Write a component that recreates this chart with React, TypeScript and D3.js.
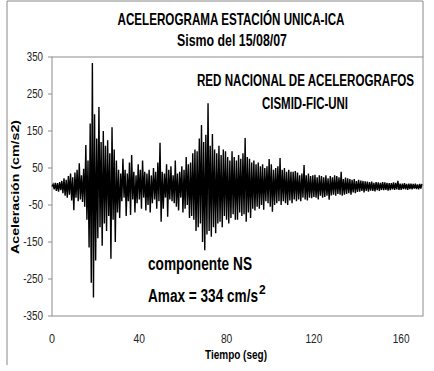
import React from "react";
import * as d3 from "d3";

const SAMPLE_STEP = 0.5;
const accel = [
  0, 6, -8, 10, -12, 9, -14, 12, -10, 15,
  -18, 22, -25, 18, -30, 28, -22, 35, -38, 25,
  -64, 38, -30, 45, -40, 63, -35, 30, -42, 48,
  -55, 112, -90, 70, -165, 170, -260, 334, -300, 195,
  -200, 130, -140, 215, -110, 120, -160, 150, -100, 110,
  -120, 125, -80, 90, -195, 160, -90, 100, -150, 70,
  -70, 45, -85, 35, -40, 75, -30, 45, -80, 35,
  -40, 65, -77, 85, -35, 40, -70, 30, -45, 60,
  -35, 45, -60, 70, -30, 40, -65, 35, -50, 45,
  -70, 30, -45, 50, -35, 40, -60, 65, -40, 118,
  -95, 40, -60, 35, -30, 60, -82, 45, -35, 55,
  -40, 30, -45, 70, -55, 35, -65, 40, -30, 55,
  -70, 45, -60, 80, -50, 60, -85, 65, -80, 90,
  -90, 100, -120, 95, -110, 130, -100, 166, -150, 120,
  -172, 140, -130, 225, -120, 110, -136, 142, -110, 100,
  -126, 90, -100, 110, -95, 85, -110, 100, -80, 95,
  -90, 80, -100, 70, -85, 95, -75, 80, -90, 70,
  -90, 85, -70, 75, -80, 90, -75, 131, -95, 80,
  -70, 75, -85, 65, -60, 70, -65, 60, -55, 65,
  -60, 55, -50, 60, -63, 50, -40, 55, -45, 74,
  -55, 60, -68, 45, -50, 50, -45, 55, -40, 77,
  -50, 45, -40, 50, -45, 40, -50, 45, -38, 40,
  -45, 40, -35, 42, -40, 38, -35, 30, -40, 35,
  -30, 58, -35, 30, -38, 35, -30, 28, -32, 30,
  -28, 32, -30, 25, -35, 30, -25, 28, -30, 25,
  -28, 30, -25, 22, -36, 28, -24, 25, -22, 30,
  -25, 28, -20, 25, -22, 40, -25, 20, -22, 24,
  -20, 22, -18, 20, -22, 18, -16, 20, -18, 15,
  -15, 18, -14, 16, -12, 15, -16, 14, -12, 13,
  -14, 12, -11, 13, -12, 10, -13, 12, -10, 11,
  -12, 10, -9, 12, -10, 11, -9, 10, -11, 9,
  -10, 9, -8, 11, -9, 10, -8, 15, -9, 8,
  -9, 8, -7, 9, -8, 7, -9, 8, -7, 8,
  -8, 7, -6, 8, -7, 6, -8, 7, -6, 7,
];

const yTicks = [350, 250, 150, 50, -50, -150, -250, -350];
const xTicks = [0, 40, 80, 120, 160];

const font = "'Liberation Sans', Arial, sans-serif";

// the original uses Arial Narrow; squeeze Liberation Sans to the same widths
function Narrow({
  x,
  y,
  len,
  size,
  anchor = "start",
  bold = false,
  fill = "#000",
  children,
}: {
  x: number;
  y: number;
  len: number;
  size: number;
  anchor?: "start" | "middle" | "end";
  bold?: boolean;
  fill?: string;
  children: React.ReactNode;
}) {
  return (
    <text
      x={x}
      y={y}
      textAnchor={anchor}
      fontSize={size}
      fontWeight={bold ? "bold" : "normal"}
      fontFamily={font}
      fill={fill}
      textLength={len}
      lengthAdjust="spacingAndGlyphs"
    >
      {children}
    </text>
  );
}

export default function App() {
  const width = 434;
  const height = 371;
  const plot = { left: 52, right: 423, top: 57, bottom: 316 };

  const x = d3.scaleLinear().domain([0, 170]).range([plot.left, plot.right]);
  const y = d3.scaleLinear().domain([-350, 350]).range([plot.bottom, plot.top]);

  const line = d3
    .line<number>()
    .x((_, i) => x(i * SAMPLE_STEP))
    .y((d) => y(d));

  const labelLen = (v: number) => String(Math.abs(v)).length * 5.4 + (v < 0 ? 3.6 : 0);

  return (
    <div style={{ position: "fixed", left: 0, top: 0 }}>
      <svg width={width} height={height} style={{ display: "block", background: "#fff" }}>
        {/* outer frame, cut like the original */}
        <path d="M7,365 V1 H423 V57" fill="none" stroke="#888" strokeWidth={1} />

        <rect
          x={plot.left}
          y={plot.top}
          width={plot.right - plot.left}
          height={plot.bottom - plot.top}
          fill="none"
          stroke="#8c8c8c"
          strokeWidth={1}
        />

        <path d={line(accel) ?? ""} fill="none" stroke="#000" strokeWidth={1.4} />

        {yTicks.map((t) => (
          <g key={t}>
            <line x1={plot.left - 4} x2={plot.left} y1={y(t)} y2={y(t)} stroke="#8c8c8c" />
            <Narrow x={plot.left - 9} y={y(t) + 4} len={labelLen(t)} size={12} anchor="end" fill="#222">
              {t}
            </Narrow>
          </g>
        ))}

        {xTicks.map((t) => (
          <Narrow key={t} x={x(t)} y={343} len={labelLen(t) + 0.6} size={13} anchor="middle" fill="#222">
            {t}
          </Narrow>
        ))}

        <Narrow x={236} y={359} len={62} size={12} anchor="middle" bold>
          Tiempo (seg)
        </Narrow>
        <text
          transform="translate(19,187) rotate(-90)"
          textAnchor="middle"
          fontSize={11}
          fontWeight="bold"
          fontFamily={font}
          textLength={134}
          lengthAdjust="spacingAndGlyphs"
        >
          Aceleración (cm/s2)
        </text>

        <Narrow x={231} y={25} len={227} size={17} anchor="middle" bold>
          ACELEROGRAMA ESTACIÓN UNICA-ICA
        </Narrow>
        <Narrow x={232} y={46} len={110} size={16} anchor="middle" bold>
          Sismo del 15/08/07
        </Narrow>

        <Narrow x={305.5} y={86} len={217} size={16} anchor="middle" bold>
          RED NACIONAL DE ACELEROGRAFOS
        </Narrow>
        <Narrow x={305} y={109} len={86} size={16} anchor="middle" bold>
          CISMID-FIC-UNI
        </Narrow>

        <Narrow x={148} y={270} len={104} size={18} bold>
          componente NS
        </Narrow>
        <Narrow x={148} y={302} len={110} size={18} bold>
          Amax = 334 cm/s
        </Narrow>
        <text x={259} y={294} fontSize={12} fontWeight="bold" fontFamily={font}>
          2
        </text>
      </svg>
    </div>
  );
}
